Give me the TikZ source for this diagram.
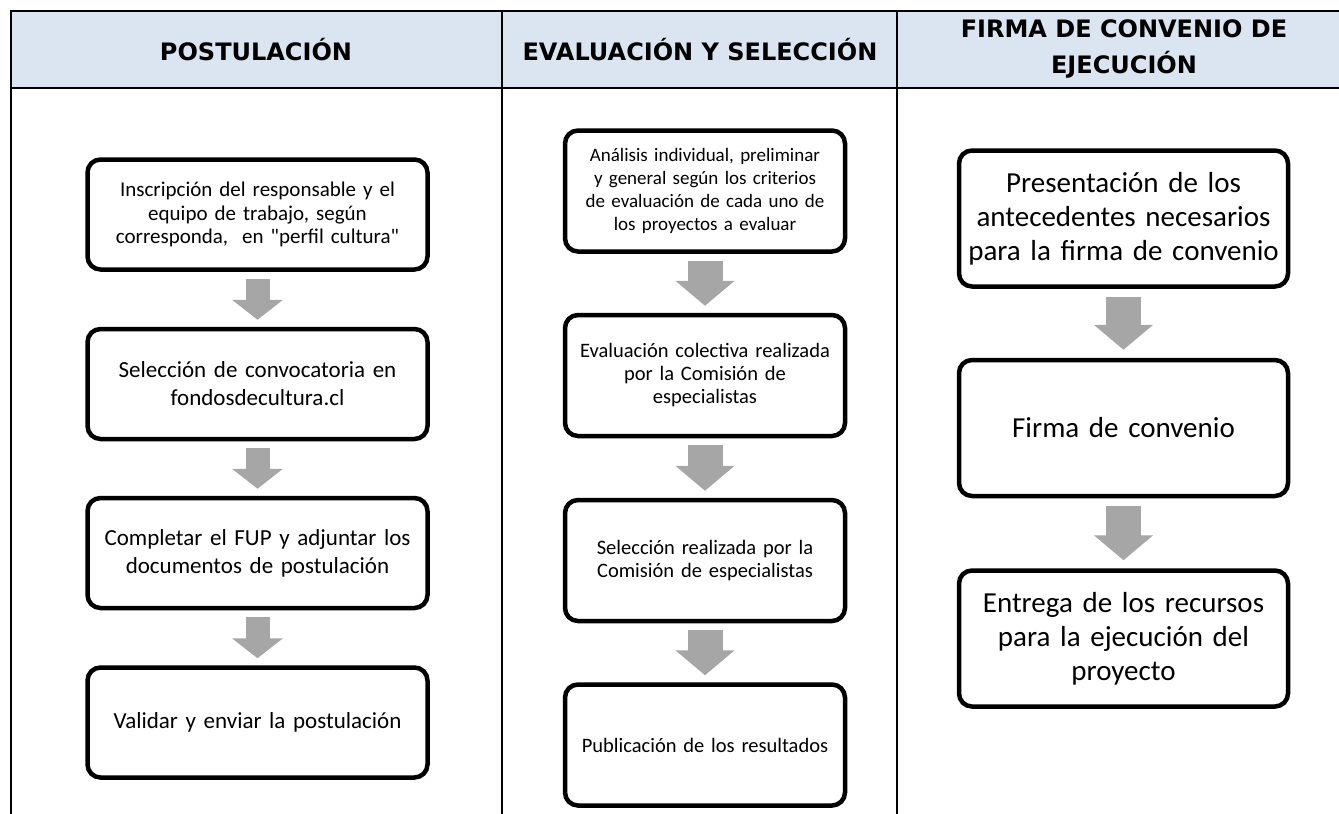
\documentclass[tikz,border=0pt]{standalone}
\usepackage{fontspec}
\setmainfont{Carlito}[Ligatures=TeXOff]
\newfontfamily\verdanafont{DejaVu Sans}
\usetikzlibrary{arrows.meta}
\usetikzlibrary{positioning}
\definecolor{cabazul}{HTML}{DBE5F1}
\definecolor{flechagris}{HTML}{A6A6A6}

\begin{document}
\begin{tikzpicture}[x=1pt, y=-1pt,
		paso/.style={draw, line width=4.5pt, rounded corners=13pt,
			align=center, inner sep=0pt},
		pasouno/.style={paso, minimum width=340pt, minimum height=110pt,
			text width=334pt, font=\fontsize{23}{28}\selectfont},
		pasodos/.style={paso, minimum width=280pt, minimum height=121pt,
			text width=276pt, font=\fontsize{20.5}{23}\selectfont},
		pasotres/.style={paso, minimum width=329pt, minimum height=136pt,
			text width=325pt, font=\fontsize{29}{34}\selectfont},
		cabecera/.style={align=center, inner sep=0pt,
			font=\verdanafont\bfseries\fontsize{24}{36}\selectfont},
		flecha/.style={draw=flechagris, line width=24pt,
			-{Triangle[width=50pt, length=20pt]}},
		flechaancha/.style={draw=flechagris, line width=35pt,
			-{Triangle[width=58pt, length=25pt]}}]
		\useasboundingbox (0,0) rectangle (1339,814);
		%% Table
		\fill [cabazul] (11,11) rectangle (1350,88);
		\draw [line width=2pt] (1350,11) -- (11,11) -- (11,814);
		\draw [line width=2pt] (11,88) -- (1350,88);
		\draw [line width=2pt] (502,11) -- (502,814);
		\draw [line width=2pt] (897,11) -- (897,814);
		\node [cabecera] (hpost) at (256,50) {POSTULACIÓN};
		\node [cabecera] (heval) at (700,50) {EVALUACIÓN Y SELECCIÓN};
		\node [cabecera] (hfirma) at (1124,49) {FIRMA DE CONVENIO DE\\EJECUCIÓN};
		%% Postulacion
		\node [pasouno, font=\fontsize{21}{23.5}\selectfont] (insc) at (257.5,214.5) {Inscripción del responsable y el\\ equipo de trabajo, según\\ corresponda,\ \ en "perfil cultura"};
		\node [pasouno] (selc) at (257.5,384) {Selección de convocatoria en\\ fondosdecultura.cl};
		\node [pasouno] (fup) at (257.5,553) {Completar el FUP y adjuntar los\\ documentos de postulación};
		\node [pasouno] (valid) at (257.5,722.5) {Validar y enviar la postulación};
		%% Evaluacion
		\node [pasodos, font=\fontsize{19}{23}\selectfont] (anal) at (705,191) {Análisis individual, preliminar\\ y general según los criterios\\ de evaluación de cada uno de\\ los proyectos a evaluar};
		\node [pasodos] (colec) at (705,375.5) {Evaluación colectiva realizada\\ por la Comisión de\\ especialistas};
		\node [pasodos] (selr) at (705,560.5) {Selección realizada por la\\ Comisión de especialistas};
		\node [pasodos] (publ) at (705,745) {Publicación de los resultados};
		%% Firma
		\node [pasotres] (pres) at (1123.5,218.5) {Presentación de los\\ antecedentes necesarios\\ para la firma de convenio};
		\node [pasotres] (firma) at (1123.5,428) {Firma de convenio};
		\node [pasotres] (entr) at (1123.5,638.5) {Entrega de los recursos\\ para la ejecución del\\ proyecto};
		%% Links
		\draw [flecha] ([yshift=-7pt]insc.south) -- ([yshift=7pt]selc.north);
		\draw [flecha] ([yshift=-7pt]selc.south) -- ([yshift=7pt]fup.north);
		\draw [flecha] ([yshift=-7pt]fup.south) -- ([yshift=7pt]valid.north);
		\draw [flechaancha] ([yshift=-7pt]anal.south) -- ([yshift=7pt]colec.north);
		\draw [flechaancha] ([yshift=-7pt]colec.south) -- ([yshift=7pt]selr.north);
		\draw [flechaancha] ([yshift=-7pt]selr.south) -- ([yshift=7pt]publ.north);
		\draw [flechaancha] ([yshift=-8pt]pres.south) -- ([yshift=8pt]firma.north);
		\draw [flechaancha] ([yshift=-8pt]firma.south) -- ([yshift=8pt]entr.north);
\end{tikzpicture}
\end{document}
